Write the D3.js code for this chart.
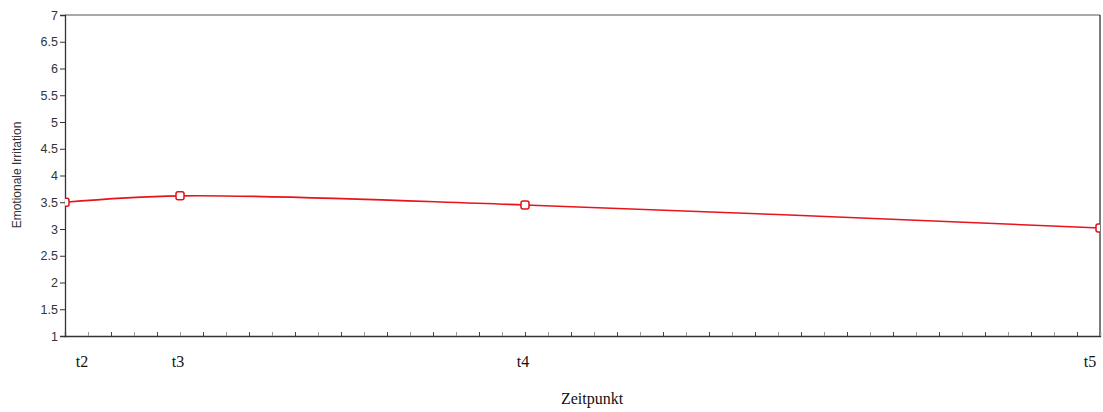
<!DOCTYPE html>
<html><head><meta charset="utf-8">
<script src="https://cdn.jsdelivr.net/npm/d3@7"></script>
<style>body{margin:0;background:#fff}</style>
</head><body>
<svg id="c" width="1103" height="412"></svg>
<script>
const categories = ["t2", "t3", "t4", "t5"];
const timeValues = [0, 5, 20, 45];
const values = [3.50, 3.62, 3.45, 3.02];
const yTicks = [1, 1.5, 2, 2.5, 3, 3.5, 4, 4.5, 5, 5.5, 6, 6.5, 7];
const minorTicks = d3.range(0, 46, 1);

const svg = d3.select("#c");
const m = {l: 65, r: 1100, t: 15, b: 336};
const x = d3.scaleLinear().domain([0, 45]).range([m.l, m.r]);
const y = d3.scaleLinear().domain([1, 7]).range([m.b, m.t]);

svg.append("defs").append("clipPath").attr("id", "clip")
  .append("rect").attr("x", m.l).attr("y", m.t).attr("width", m.r - m.l).attr("height", m.b - m.t);

// frame
svg.append("line").attr("x1", m.l).attr("x2", m.r).attr("y1", m.t).attr("y2", m.t).attr("stroke", "#8c8c8c").attr("stroke-width", 1.3);
svg.append("line").attr("x1", m.r).attr("x2", m.r).attr("y1", m.t).attr("y2", m.b).attr("stroke", "#333").attr("stroke-width", 1.3);

// y axis
const ya = svg.append("g").attr("transform", `translate(${m.l},0)`)
  .call(d3.axisLeft(y).tickValues(yTicks).tickSize(5).tickPadding(2).tickFormat(d3.format("")));
ya.select(".domain").attr("stroke", "#333").attr("stroke-width", 1.3);
ya.selectAll(".tick line").attr("stroke", "#333");
ya.selectAll("text").attr("font-family", "Arial, 'Liberation Sans', sans-serif").attr("font-size", 12.5).attr("fill", "#333");

// x axis
const xa = svg.append("g").attr("transform", `translate(0,${m.b})`)
  .call(d3.axisBottom(x).tickValues(minorTicks).tickSize(-4).tickFormat(""));
xa.select(".domain").attr("stroke", "#333").attr("stroke-width", 1.3);
xa.selectAll(".tick line").attr("stroke", (d, i) => i % 2 ? "#999" : "#444");

// x category labels
const labelOffset = [17, -2, -2, -10];
svg.append("g").selectAll("text").data(categories).join("text")
  .attr("x", (d, i) => x(timeValues[i]) + labelOffset[i])
  .attr("y", 367)
  .attr("text-anchor", "middle")
  .attr("font-family", "'Liberation Serif', 'Times New Roman', serif")
  .attr("font-size", 16).attr("fill", "#111")
  .text(d => d);

svg.append("text").attr("x", 592).attr("y", 404).attr("text-anchor", "middle")
  .attr("font-family", "'Liberation Serif', 'Times New Roman', serif")
  .attr("font-size", 16).attr("fill", "#111").text("Zeitpunkt");

svg.append("text").attr("transform", "translate(21,175) rotate(-90)").attr("text-anchor", "middle")
  .attr("font-family", "Arial, 'Liberation Sans', sans-serif")
  .attr("font-size", 12).attr("fill", "#333").text("Emotionale Irritation");

// line
const pts = values.map((v, i) => [timeValues[i], v]);
const g = svg.append("g").attr("clip-path", "url(#clip)");
g.append("path").datum(pts)
  .attr("d", d3.line().x(d => x(d[0])).y(d => y(d[1])).curve(d3.curveCatmullRom.alpha(0.5)))
  .attr("fill", "none").attr("stroke", "#e8141b").attr("stroke-width", 1.6);
g.selectAll("rect.mk").data(pts).join("rect").attr("class", "mk")
  .attr("x", d => x(d[0]) - 4).attr("y", d => y(d[1]) - 4)
  .attr("width", 8).attr("height", 8).attr("rx", 2)
  .attr("fill", "#fff").attr("stroke", "#e01018").attr("stroke-width", 1.5);
</script>
</body></html>
